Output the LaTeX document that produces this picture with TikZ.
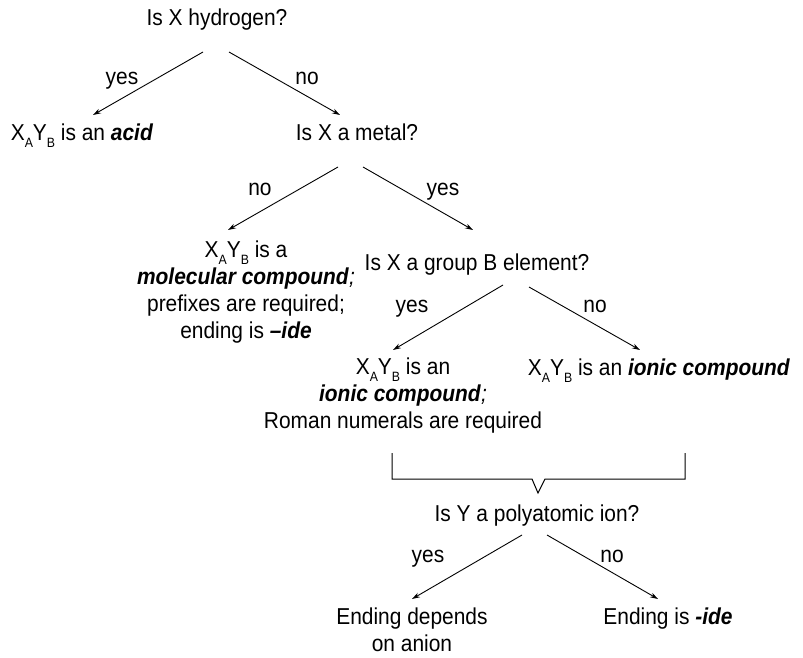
\documentclass[tikz,border=0pt]{standalone}
\usepackage{fontspec}
\setmainfont{Liberation Sans}[FakeStretch=0.91]
\usetikzlibrary{arrows.meta}
\newcommand{\XAYB}{X\lower7pt\hbox{\fontsize{13.5}{13.5}\selectfont A}Y\lower7pt\hbox{\fontsize{13.5}{13.5}\selectfont B}}
\newcommand{\bfit}[1]{\textbf{\textit{#1}}}

\begin{document}
\begin{tikzpicture}[x=1pt,y=-1pt,
  txt/.style={anchor=base,inner sep=0pt,align=center,font=\fontsize{23}{26.7}\selectfont},
  arr/.style={-{Stealth[length=8pt,width=5pt]},line width=0.9pt}]
\useasboundingbox (0,0) rectangle (803,658);
% questions and answers (multi-line nodes sit on their last line)
\node[txt] (hydro) at (217,26) {Is X hydrogen?};
\node[txt] (acid) at (82,140) {\XAYB{} is an \bfit{acid}};
\node[txt] (metal) at (357,140) {Is X a metal?};
\node[txt] (molec) at (246,338) {\XAYB{} is a\\\bfit{molecular compound}\textit{;}\\prefixes are required;\\ending is \bfit{--ide}};
\node[txt] (groupb) at (477,270) {Is X a group B element?};
\node[txt] (ionicrn) at (403,428) {\XAYB{} is an\\\bfit{ionic compound}\textit{;}\\Roman numerals are required};
\node[txt] (ionic) at (659,375) {\XAYB{} is an \bfit{ionic compound}};
\node[txt] (poly) at (537,521) {Is Y a polyatomic ion?};
\node[txt] (depends) at (412,651) {Ending depends\\on anion};
\node[txt] (ideend) at (668,624) {Ending is \bfit{-ide}};
% yes / no
\node[txt] (y1) at (122,85) {yes};
\node[txt] (n1) at (307,85) {no};
\node[txt] (n2) at (260,195) {no};
\node[txt] (y2) at (443,195) {yes};
\node[txt] (y3) at (412,312) {yes};
\node[txt] (n3) at (595,312) {no};
\node[txt] (y4) at (428,562) {yes};
\node[txt] (n4) at (612,562) {no};
% arrows
\draw[arr] ([shift={(-14,26)}]hydro.base) -- ([shift={(11,-25)}]acid.base);
\draw[arr] ([shift={(12,26)}]hydro.base) -- ([shift={(-17,-25)}]metal.base);
\draw[arr] ([shift={(-19,27)}]metal.base) -- ([shift={(-18,-108)}]molec.base);
\draw[arr] ([shift={(6,27)}]metal.base) -- ([shift={(-4,-40)}]groupb.base);
\draw[arr] ([shift={(26,15)}]groupb.base) -- ([shift={(-10,-78)}]ionicrn.base);
\draw[arr] ([shift={(52,17)}]groupb.base) -- ([shift={(-19,-25)}]ionic.base);
\draw[arr] ([shift={(-15,14)}]poly.base) -- ([shift={(0,-52)}]depends.base);
\draw[arr] ([shift={(10,14)}]poly.base) -- ([shift={(-10,-25)}]ideend.base);
% bracket
\draw[line width=1pt] (392,453) -- (392,479) -- (532,479) -- (538,493) -- (545,479) -- (685,479) -- (685,453);
\end{tikzpicture}
\end{document}
